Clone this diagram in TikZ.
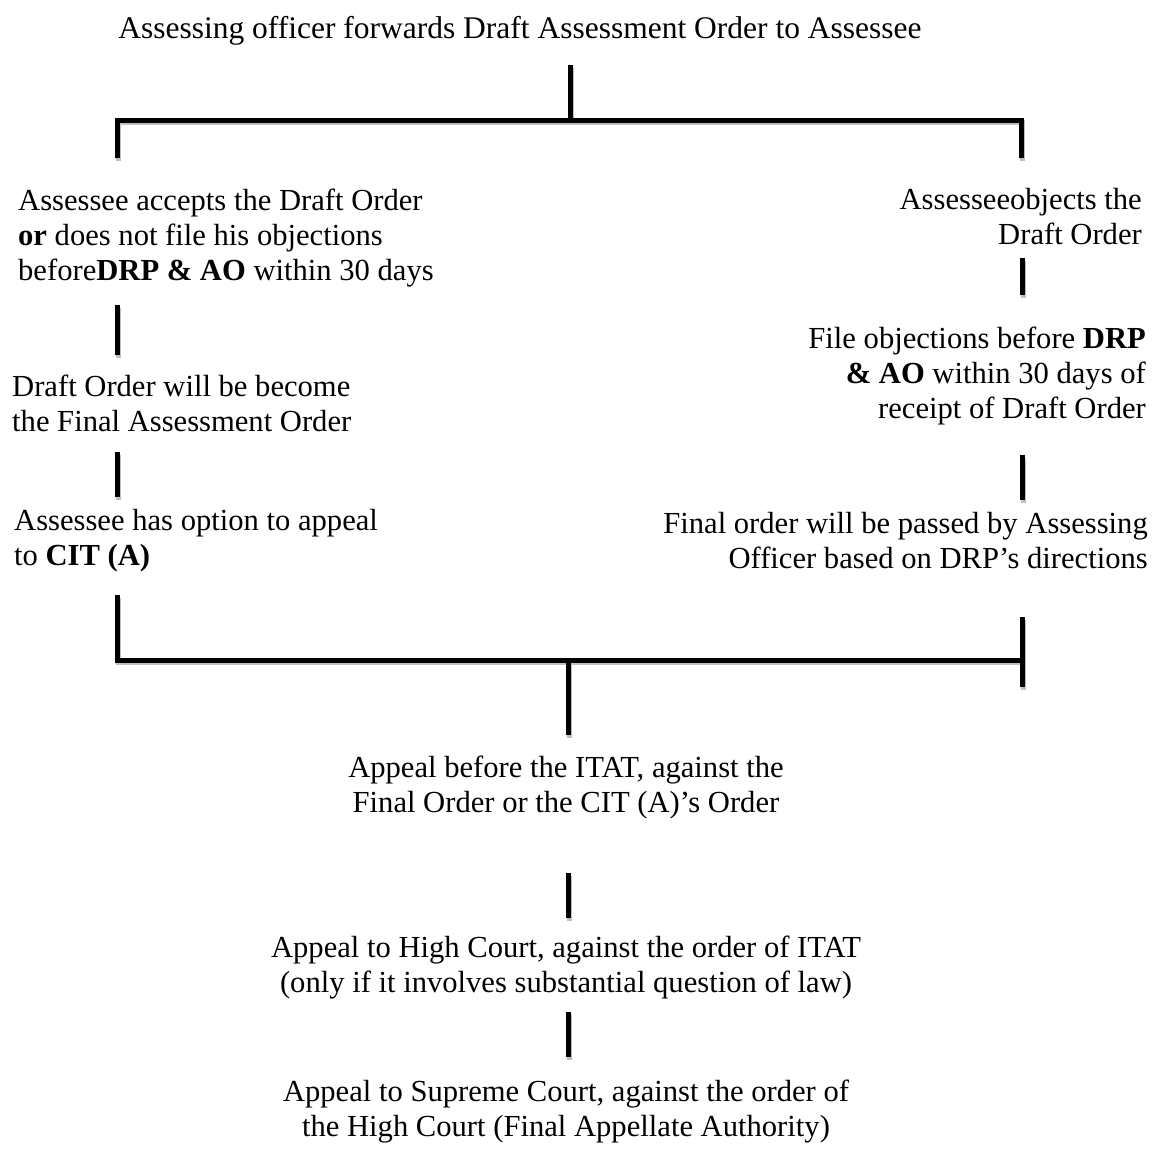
\documentclass[tikz,border=0pt]{standalone}
\usepackage{fontspec}
\setmainfont{Liberation Serif}
\tikzset{
  barline/.style={line width=5pt, line join=miter,
    preaction={draw=black!25, line width=5pt, transform canvas={xshift=1pt, yshift=-2.5pt}}},
}
\begin{document}
\begin{tikzpicture}[x=1pt,y=-1pt]
  \useasboundingbox (0,0) rectangle (1162,1149);

  \begin{scope}[every node/.style={inner sep=0pt, font=\fontsize{30.6}{35}\selectfont}]
    \node[font=\fontsize{31.5}{35}\selectfont] (forward) at (520,31) {Assessing officer forwards Draft Assessment Order to Assessee};

    \node[anchor=west, align=left] (accept) at (18,238)
      {Assessee accepts the Draft Order\\ \textbf{or} does not file his objections\\ before\textbf{DRP \& AO} within 30 days};
    \node[anchor=west, align=left] (become) at (12,403)
      {Draft Order will be become\\ the Final Assessment Order};
    \node[anchor=west, align=left] (citA) at (14,541)
      {Assessee has option to appeal\\ to \textbf{CIT (A)}};

    \node[anchor=east, align=right] (object) at (1142,217)
      {Assesseeobjects the\\ Draft Order};
    \node[anchor=east, align=right] (drp) at (1146,376)
      {File objections before \textbf{DRP}\\ \textbf{\& AO} within 30 days of\\ receipt of Draft Order};
    \node[anchor=east, align=right] (final) at (1148,541)
      {Final order will be passed by Assessing\\ Officer based on DRP’s directions};

    \node[align=center] (itat) at (566,787)
      {Appeal before the ITAT, against the\\ Final Order or the CIT (A)’s Order};
    \node[align=center] (hc) at (566,968)
      {Appeal to High Court, against the order of ITAT\\ (only if it involves substantial question of law)};
    \node[align=center] (sc) at (566,1112)
      {Appeal to Supreme Court, against the order of\\ the High Court (Final Appellate Authority)};
  \end{scope}

  % bar ends
  \coordinate (t0) at (570,65);
  \coordinate (t1) at (570,120);
  \coordinate (tl) at (117,120);
  \coordinate (tr) at (1021,120);
  \coordinate (tld) at (117,158);
  \coordinate (trd) at (1021,158);
  \coordinate (r1a) at (1022,258);
  \coordinate (r1b) at (1022,295);
  \coordinate (l1a) at (117,305);
  \coordinate (l1b) at (117,355);
  \coordinate (l2a) at (117,452);
  \coordinate (l2b) at (117,497);
  \coordinate (r2a) at (1022,455);
  \coordinate (r2b) at (1022,500);
  \coordinate (l3a) at (117,595);
  \coordinate (bl) at (117,660);
  \coordinate (br) at (1022,660);
  \coordinate (r3a) at (1022,617);
  \coordinate (r3b) at (1022,687);
  \coordinate (b0) at (568,660);
  \coordinate (b1) at (568,735);
  \coordinate (c1a) at (568,873);
  \coordinate (c1b) at (568,918);
  \coordinate (c2a) at (568,1012);
  \coordinate (c2b) at (568,1057);

  \draw[barline] (t0) -- (t1);
  \draw[barline] (tld) -- (tl) -- (tr) -- (trd);
  \draw[barline] (r1a) -- (r1b);
  \draw[barline] (l1a) -- (l1b);
  \draw[barline] (l2a) -- (l2b);
  \draw[barline] (r2a) -- (r2b);
  \draw[barline] (l3a) -- (bl) -- (br);
  \draw[barline] (r3a) -- (r3b);
  \draw[barline] (b0) -- (b1);
  \draw[barline] (c1a) -- (c1b);
  \draw[barline] (c2a) -- (c2b);

\end{tikzpicture}
\end{document}
